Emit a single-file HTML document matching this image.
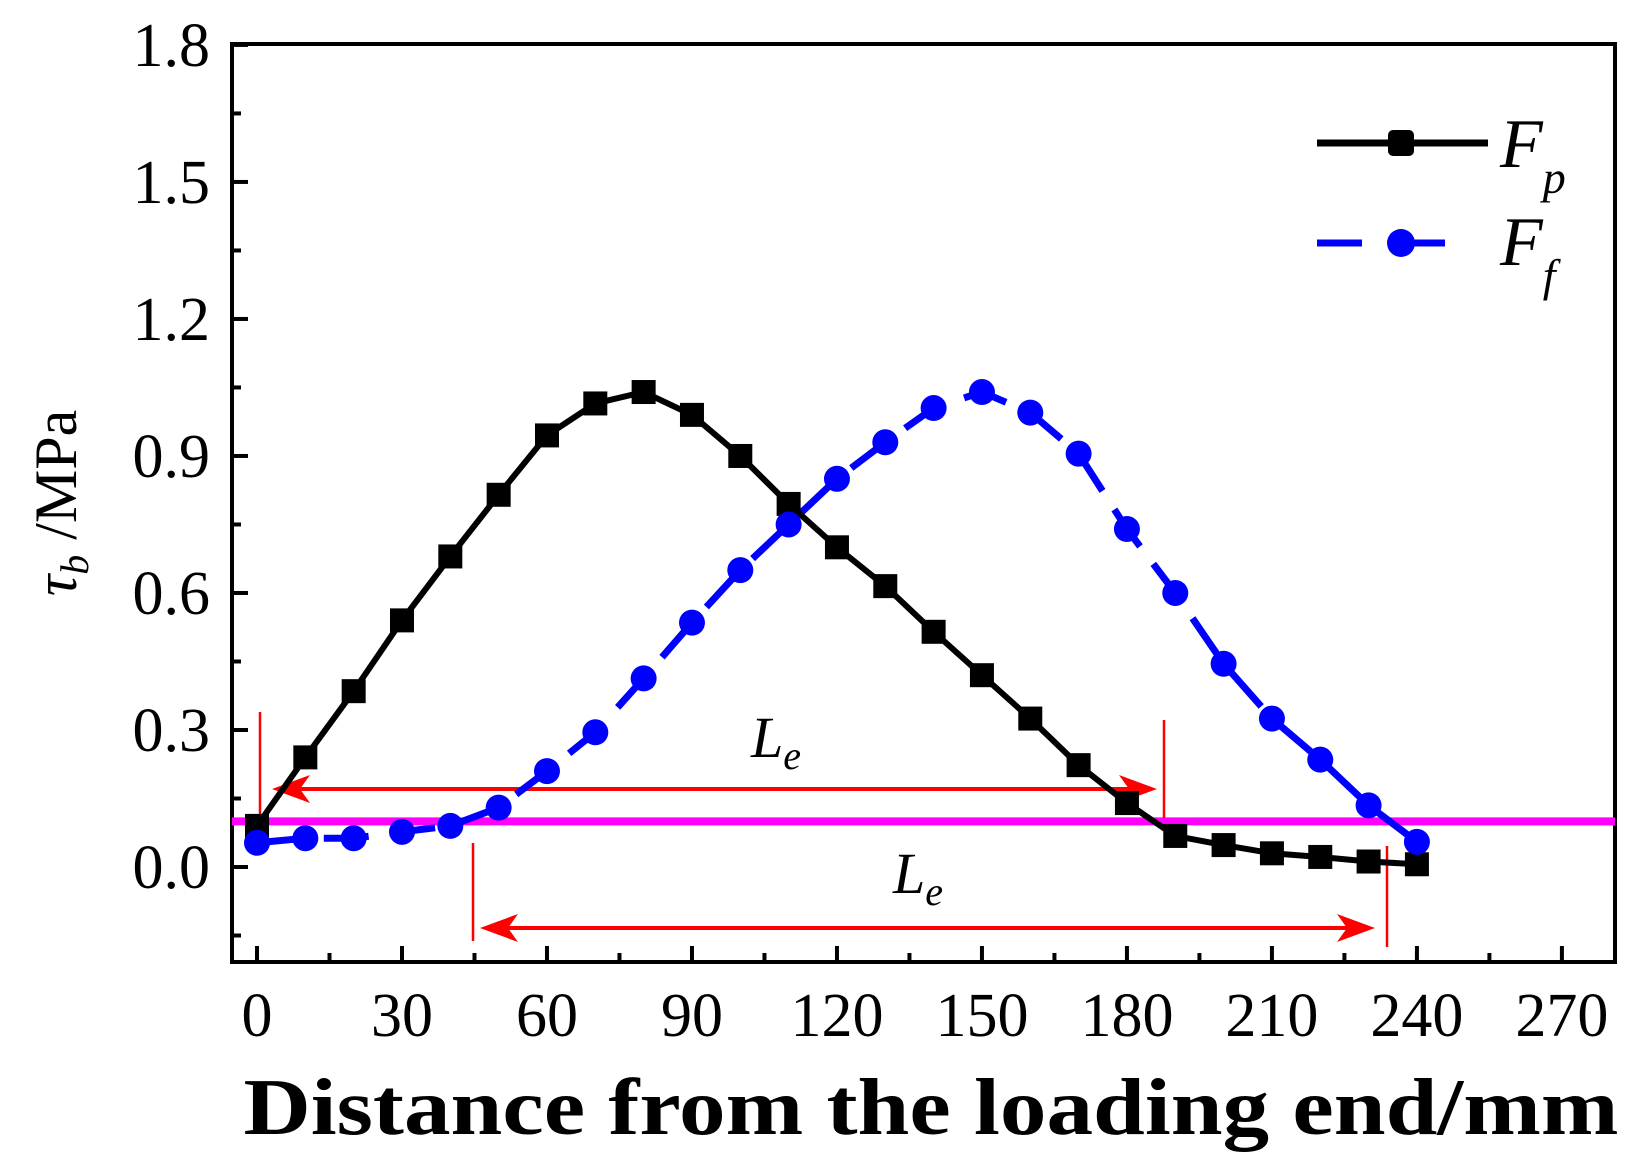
<!DOCTYPE html>
<html><head><meta charset="utf-8"><style>
html,body{margin:0;padding:0;background:#fff;}
svg{display:block;font-family:"Liberation Serif",serif;}
</style></head><body>
<svg id="chart" width="1640" height="1164" viewBox="0 0 1640 1164" xmlns="http://www.w3.org/2000/svg">
<g id="grid"></g>
<g id="annot"></g>
<g id="series"></g>
<g>
 <line x1="1317" y1="143" x2="1488" y2="143" stroke="#000" stroke-width="7"/>
 <rect x="1388" y="130" width="26" height="26" rx="5" fill="#000"/>
 <text x="1500" y="167" font-size="70" font-style="italic">F<tspan font-size="46" dy="26">p</tspan></text>
 <line x1="1317" y1="243" x2="1362" y2="243" stroke="#0000ff" stroke-width="7"/>
 <line x1="1401" y1="243" x2="1445" y2="243" stroke="#0000ff" stroke-width="7"/>
 <circle cx="1401" cy="243" r="14" fill="#0000ff"/>
 <text x="1500" y="265" font-size="70" font-style="italic">F<tspan font-size="46" dy="26">f</tspan></text>
</g>
<text x="931" y="1134" font-size="80" font-weight="bold" text-anchor="middle" textLength="1375" lengthAdjust="spacingAndGlyphs">Distance from the loading end/mm</text>
<text transform="translate(76,503) rotate(-90)" font-size="60" text-anchor="middle"><tspan font-style="italic">τ</tspan><tspan font-style="italic" font-size="40" dy="12">b</tspan><tspan dy="-12"> /MPa</tspan></text>
</svg>
<script>
const xTicks=[0,30,60,90,120,150,180,210,240,270];
const yTicks=[0.0,0.3,0.6,0.9,1.2,1.5,1.8];
const yTickLabels=["0.0","0.3","0.6","0.9","1.2","1.5","1.8"];
const distances=[0,10,20,30,40,50,60,70,80,90,100,110,120,130,140,150,160,170,180,190,200,210,220,230,240];
const fpValues=[0.09,0.24,0.385,0.54,0.68,0.815,0.945,1.015,1.04,0.99,0.9,0.795,0.7,0.615,0.515,0.42,0.325,0.223,0.14,0.068,0.048,0.03,0.022,0.012,0.006];
const ffValues=[0.053,0.063,0.063,0.077,0.09,0.13,0.21,0.295,0.413,0.535,0.65,0.75,0.85,0.93,1.005,1.04,0.995,0.905,0.74,0.6,0.445,0.325,0.235,0.135,0.055];
const threshold=0.1;
</script>
<script>
const NS="http://www.w3.org/2000/svg";
const X=v=>257+v*4.833;
const Y=v=>867-v*456.7;
const L=232,R=1615,T=44,B=962;
function mk(tag,attrs,parent){const e=document.createElementNS(NS,tag);for(const k in attrs)e.setAttribute(k,attrs[k]);parent.appendChild(e);return e;}
const grid=document.getElementById('grid');
const fr=mk('rect',{x:L,y:T,width:R-L,height:B-T,fill:'none',stroke:'#000','stroke-width':4},grid);


xTicks.forEach((t,i)=>{
 const l=mk('line',{x1:X(t),x2:X(t),y1:B,y2:B-16,stroke:'#000','stroke-width':4},grid);
 
 
 if(i<xTicks.length-1){const m=mk('line',{x1:X(t+15),x2:X(t+15),y1:B,y2:B-9,stroke:'#000','stroke-width':4},grid);
 
 }
 const tx=mk('text',{x:X(t),y:1036,'font-size':62,'text-anchor':'middle'},grid);tx.textContent=t;
 
 
});
yTicks.forEach((t,i)=>{
 const l=mk('line',{x1:L,x2:L+16,y1:Y(t),y2:Y(t),stroke:'#000','stroke-width':4},grid);
 
 
 const tx=mk('text',{x:210,y:Y(t)+21,'font-size':62,'text-anchor':'end'},grid);tx.textContent=yTickLabels[i];
 
 
});
[-0.15,0.15,0.45,0.75,1.05,1.35,1.65].forEach(t=>{
 const m=mk('line',{x1:L,x2:L+9,y1:Y(t),y2:Y(t),stroke:'#000','stroke-width':4},grid);
 
 
});
const an=document.getElementById('annot');
const th=mk('line',{x1:L,x2:R,y1:Y(threshold),y2:Y(threshold),stroke:'#ff00ff','stroke-width':8},an);


function arrowH(x1,x2,y){
 mk('line',{x1:x1+20,x2:x2-20,y1:y,y2:y,stroke:'#ff0000','stroke-width':4},an);
 mk('polygon',{points:`${x1},${y} ${x1+38},${y-14} ${x1+28},${y} ${x1+38},${y+14}`,fill:'#ff0000'},an);
 mk('polygon',{points:`${x2},${y} ${x2-38},${y-14} ${x2-28},${y} ${x2-38},${y+14}`,fill:'#ff0000'},an);
}
function vl(x,y1,y2){mk('line',{x1:x,x2:x,y1:y1,y2:y2,stroke:'#ff0000','stroke-width':2.5},an);}
vl(260,712,815);vl(1164,720,818);arrowH(272,1157,789);
vl(473,843,941);vl(1387,846,947);arrowH(480,1375,928);
[[776,757],[918,893]].forEach(p=>{const t=mk('text',{x:p[0],y:p[1],'font-size':58,'font-style':'italic','text-anchor':'middle'},an);
t.innerHTML='L<tspan font-size="40" dy="12">e</tspan>';

});
const sg=document.getElementById('series');
const ffPts=distances.map((d,i)=>X(d)+','+Y(ffValues[i])).join(' ');
const ffl=mk('polyline',{points:ffPts,fill:'none',stroke:'#0000ff','stroke-width':7,'stroke-dasharray':'45 22'},sg);


const fpPts=distances.map((d,i)=>X(d)+','+Y(fpValues[i])).join(' ');
const fpl=mk('polyline',{points:fpPts,fill:'none',stroke:'#000','stroke-width':6},sg);


distances.forEach((d,i)=>{
 const r=mk('rect',{x:X(d)-12,y:Y(fpValues[i])-12,width:24,height:24,fill:'#000'},sg);
 
 
});
distances.forEach((d,i)=>{
 const c=mk('circle',{cx:X(d),cy:Y(ffValues[i]),r:13,fill:'#0000ff'},sg);
 
 
});
</script>
</body></html>
